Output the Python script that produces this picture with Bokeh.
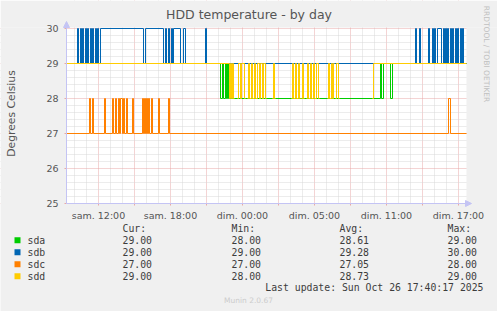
import math
from bokeh.plotting import figure
from bokeh.models import FixedTicker, Range1d, Arrow, NormalHead
from bokeh.core.properties import value
from bokeh.embed import file_html
from bokeh.resources import INLINE

NAN = float("nan")

# ---- data (5-minute samples; run lists of [first sample, value]) ----
STEP_H = 5 / 60            # one sample = 5 minutes (hours)
N_SAMPLES = 400            # samples shown in the graph
T_FIRST = -32 * STEP_H     # time (h) of first sample, relative to "sam. 12:00"

sda_starts = [0, 154, 156, 157, 159, 160, 161, 162, 314, 315, 317, 324, 326]
sda_vals   = [29, 28, 29, 28, 29, 28, 29, 28, 29, 28, 29, 28, 29]

sdb_starts = [0, 11, 12, 14, 15, 16, 17, 19, 20, 21, 22, 24, 25, 26, 27, 29, 30, 31, 32, 34,
              77, 79, 97, 99, 100, 102, 103, 105, 106, 107, 114, 117, 119, 139, 140,
              349, 350, 353, 354, 362, 363, 366, 367, 368, 369, 371, 375, 377, 378, 379, 380,
              381, 382, 384, 385, 386, 387, 389, 390, 391, 392, 394, 395, 396, 397]
sdb_vals   = [29, 30, 29, 30, 29, 30, 29, 30, 29, 30, 29, 30, 29, 30, 29, 30, 29, 30, 29, 30,
              29, 30, 29, 30, 29, 30, 29, 30, 29, 30, 29, 30, 29, 30, 29,
              30, 29, 30, 29, 30, 29, 30, 29, 30, 29, 30, 29, 30, 29, 30, 29,
              30, 29, 30, 29, 30, 29, 30, 29, 30, 29, 30, 29, 30, 29]

sdc_starts = [0, 23, 24, 26, 27, 38, 39, 46, 47, 49, 50, 52, 53, 54, 56, 57, 58, 60, 61,
              66, 67, 76, 77, 78, 79, 80, 81, 82, 83, 85, 86, 92, 93, 102, 103, 382, 384]
sdc_vals   = [27, 28, 27, 28, 27, 28, 27, 28, 27, 28, 27, 28, 27, 28, 27, 28, 27, 28, 27,
              28, 27, 28, 27, 28, 27, 28, 27, 28, 27, 28, 27, 28, 27, 28, 27, 28, 27]

sdd_starts = [0, 163, 164, 165, 166, 167, 168,
              171, 172, 174, 175, 178, 179,
              181, 182, 183, 185, 186, 188, 189, 191, 193, 194, 196, 197, 199, 200,
              206, 207, 208, 209,
              225, 226, 227, 229, 230, 232, 233, 234,
              235, 236, 237, 238,
              240, 241, 242, 244, 245, 247, 248, 250, 252, 253,
              261, 262, 263, 265, 266, 267, 268,
              269, 270, 272, 273,
              306, 307]
sdd_vals   = [29, 28, 29, 28, 29, 28, NAN,
              28, 29, 28, 29, 28, NAN,
              28, 29, 28, 29, 28, 29, 28, 29, 28, 29, 28, 29, 28, NAN,
              28, 29, 28, NAN,
              28, 29, 28, 29, 28, 29, 28, NAN,
              28, 29, 28, NAN,
              28, 29, 28, 29, 28, 29, 28, 29, 28, NAN,
              28, 29, 28, 29, 28, 29, NAN,
              28, 29, 28, NAN,
              28, 29]

series_names  = ["sda", "sdb", "sdc", "sdd"]
series_colors = ["#00CC00", "#0066B3", "#FF8000", "#FFCC00"]
series_runs   = [(sda_starts, sda_vals), (sdb_starts, sdb_vals),
                 (sdc_starts, sdc_vals), (sdd_starts, sdd_vals)]
for _s, _v in series_runs:
    assert len(_s) == len(_v)
cur_vals = ["29.00", "29.00", "27.00", "29.00"]
min_vals = ["28.00", "29.00", "27.00", "28.00"]
avg_vals = ["28.61", "29.28", "27.05", "28.73"]
max_vals = ["29.00", "30.00", "28.00", "29.00"]
col_headers = ["Cur:", "Min:", "Avg:", "Max:"]

x_label_hours = [0, 6, 12, 18, 24, 30]
x_labels = ["sam. 12:00", "sam. 18:00", "dim. 00:00", "dim. 05:00", "dim. 11:00", "dim. 17:00"]
y_ticks = [25, 26, 27, 28, 29, 30]
Y_MIN, Y_MAX = 25, 30

title_text = "HDD temperature - by day"
y_title = "Degrees Celsius"
last_update = "Last update: Sun Oct 26 17:40:17 2025"
footer = "Munin 2.0.67"
side_text = "RRDTOOL / TOBI OETIKER"

# ---- layout (pixels) ----
W, H = 497, 311
PL, PR, PT, PB = 66, 466, 28, 203       # plot area
PX_X = 12.0                              # pixels per hour
PX_Y = 35.0                              # pixels per degree

def dx(px):
    return T_FIRST + (px - PL) / PX_X

def dy(py):
    return Y_MIN + (PB - py) / PX_Y

t_end = T_FIRST + N_SAMPLES * STEP_H
x0, x1 = dx(0), dx(W)
y0, y1 = dy(H), dy(0)

BG = "#F0F0F0"
GRID_MAJ = "#E8A8A8"
GRID_MIN = "#D8D8D8"
AXIS_C = "#C4C4F4"
TXT = "#555555"
LEG_C = "#3C3C3C"

p = figure(width=W, height=H, output_backend="svg", toolbar_location=None,
           x_range=Range1d(x0, x1), y_range=Range1d(y0, y1),
           min_border_left=0, min_border_right=0, min_border_top=0, min_border_bottom=0)
p.title.visible = False
p.border_fill_color = BG
p.background_fill_color = "#FFFFFF"
p.outline_line_color = None

# axes drawn at the plot-area edges
p.xaxis.fixed_location = Y_MIN
p.yaxis.fixed_location = T_FIRST
p.xaxis.bounds = (T_FIRST, t_end)
p.yaxis.bounds = (Y_MIN, Y_MAX)

maj_x = list(range(0, 31, 3))
min_x = [h for h in range(-2, 31) if h % 3 != 0]
p.xaxis.ticker = FixedTicker(ticks=maj_x, minor_ticks=min_x)
overrides = {h: "" for h in maj_x}
for h, lab in zip(x_label_hours, x_labels):
    overrides[h] = lab
p.xaxis.major_label_overrides = overrides
min_y = [Y_MIN + k * 0.2 for k in range(1, 25) if k % 5 != 0]
p.yaxis.ticker = FixedTicker(ticks=y_ticks, minor_ticks=min_y)

for ax in (p.xaxis, p.yaxis):
    ax.axis_line_color = None
    ax.major_tick_line_color = GRID_MAJ
    ax.major_tick_in = 0
    ax.major_tick_out = 2
    ax.minor_tick_line_color = None
    ax.major_label_text_font = "DejaVu Sans"
    ax.major_label_text_font_size = "9.5px"
    ax.major_label_text_color = TXT
p.xaxis.major_label_standoff = 2
p.yaxis.major_label_standoff = 4

for g in (p.xgrid, p.ygrid):
    g.grid_line_color = GRID_MAJ
    g.grid_line_dash = "1 1"
    g.minor_grid_line_color = GRID_MIN
    g.minor_grid_line_dash = "1 1"

# grey canvas outside the plot area (covers grid there)
top_edge = Y_MAX + 1 / PX_Y
p.quad(left=[x0, x0, t_end, x0], right=[x1, T_FIRST, x1, x1],
       bottom=[top_edge, y0, y0, y0], top=[y1, top_edge, top_edge, Y_MIN],
       fill_color=BG, line_color=None)

# y axis title
p.text(x=[dx(11)], y=[dy(113)], text=[y_title], text_font=value("DejaVu Sans"),
       text_font_size=value("10.8px"), text_color=TXT, text_align="center",
       text_baseline="middle", angle=math.pi / 2)

# ---- series as step lines ----
def step_xy(starts, vals):
    xs, ys = [], []
    for i, (s, v) in enumerate(zip(starts, vals)):
        e = starts[i + 1] if i + 1 < len(starts) else N_SAMPLES
        if v != v:
            xs.append(NAN); ys.append(NAN)
            continue
        xs += [T_FIRST + s * STEP_H, T_FIRST + e * STEP_H]
        ys += [v, v]
    return xs, ys

for (st, vl), col in zip(series_runs, series_colors):
    xs, ys = step_xy(st, vl)
    p.line(xs, ys, line_color=col, line_width=1)

# axis lines with arrows
p.add_layout(Arrow(end=NormalHead(size=6, fill_color=AXIS_C, line_color=AXIS_C),
                   x_start=T_FIRST, y_start=Y_MIN, x_end=T_FIRST, y_end=Y_MAX + 7 / PX_Y,
                   line_color=AXIS_C, line_width=1))
p.add_layout(Arrow(end=NormalHead(size=6, fill_color=AXIS_C, line_color=AXIS_C),
                   x_start=T_FIRST, y_start=Y_MIN, x_end=t_end + 5 / PX_X,
                   y_end=Y_MIN, line_color=AXIS_C, line_width=1))

# title and side text
p.text(x=[dx(248.5)], y=[dy(14)], text=[title_text], text_font=value("DejaVu Sans"),
       text_font_size=value("12.5px"), text_color=TXT, text_align="center",
       text_baseline="alphabetic")
p.text(x=[dx(486)], y=[dy(53.5)], text=[side_text], text_font=value("DejaVu Sans"),
       text_font_size=value("7.5px"), text_color="#C0C0C0", text_align="center",
       text_baseline="middle", angle=-math.pi / 2)

# ---- legend (pixel positions converted to data space) ----
COLS = [122, 231, 339, 447]
HDR_Y = 227.7
ROW_Y = [239.7, 251.7, 263.7, 275.7]

tx, ty, tt = [], [], []
for cx, hdr in zip(COLS, col_headers):
    tx.append(dx(cx)); ty.append(dy(HDR_Y)); tt.append(hdr)
for i, name in enumerate(series_names):
    tx.append(dx(27)); ty.append(dy(ROW_Y[i])); tt.append(name)
    for cx, vals in zip(COLS, [cur_vals, min_vals, avg_vals, max_vals]):
        tx.append(dx(cx)); ty.append(dy(ROW_Y[i])); tt.append(vals[i])
p.text(x=tx, y=ty, text=tt, text_font=value("DejaVu Sans Mono"),
       text_font_size=value("9.8px"), text_color=LEG_C, text_align="left",
       text_baseline="middle")
p.text(x=[dx(483)], y=[dy(287.3)], text=[last_update], text_font=value("DejaVu Sans Mono"),
       text_font_size=value("9.8px"), text_color=LEG_C, text_align="right",
       text_baseline="middle")
p.rect(x=[dx(17)] * 4, y=[dy(v) for v in ROW_Y], width=6 / PX_X, height=6 / PX_Y,
       fill_color=series_colors, line_color=None)
p.text(x=[dx(248)], y=[dy(300)], text=[footer], text_font=value("DejaVu Sans"),
       text_font_size=value("7.5px"), text_color="#CCCCCC", text_align="center",
       text_baseline="middle")

open("out.html", "w").write(file_html(p, INLINE))
